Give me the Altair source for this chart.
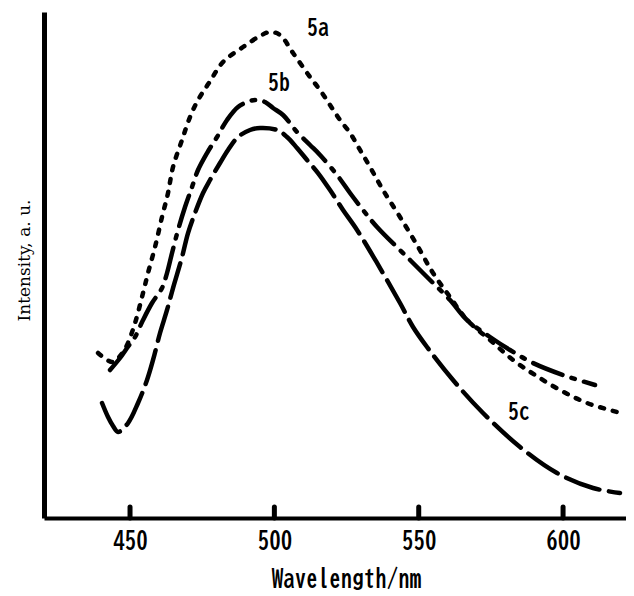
import altair as alt
import pandas as pd

# ---- data ----
wl_5a = [438.92, 442.03, 444.11, 446.54, 448.96, 451.73, 454.50, 456.23, 458.66, 461.08,
         463.16, 464.89, 468.01, 470.78, 473.55, 477.71, 482.21, 489.14, 495.03, 498.48,
         501.96, 506.46, 512.35, 515.81, 519.28, 522.74, 526.21, 529.67, 533.13, 537.63,
         543.52, 549.41, 554.95, 560.84, 566.73, 574.70, 582.66, 590.28, 598.94, 608.30,
         621.46]
int_5a = [32.61, 31.23, 30.83, 32.02, 34.19, 38.54, 44.47, 48.42, 53.56, 59.49,
          64.23, 69.37, 74.70, 79.25, 82.60, 86.30, 90.12, 93.08, 95.26, 96.05,
          95.45, 91.90, 87.15, 84.58, 81.62, 78.66, 76.09, 72.73, 69.37, 64.82,
          59.49, 53.95, 48.42, 43.68, 39.13, 35.18, 31.23, 28.26, 25.30, 22.73,
          20.55]

wl_5b = [443.07, 446.54, 448.96, 451.73, 454.50, 457.62, 461.08, 462.82, 464.55, 466.63,
         469.05, 471.48, 473.55, 476.67, 480.14, 483.60, 487.41, 491.57, 494.34, 496.76,
         499.53, 503.00, 507.85, 512.35, 515.81, 521.70, 526.20, 530.71, 535.56, 546.99,
         553.91, 560.84, 566.73, 574.70, 581.62, 589.59, 599.98, 611.07]
int_5b = [29.25, 31.62, 33.60, 35.77, 39.13, 42.49, 45.45, 48.42, 52.37, 56.92,
          61.46, 65.42, 68.77, 72.13, 75.30, 78.66, 81.23, 82.41, 82.61, 82.21,
          81.03, 79.64, 76.28, 73.72, 71.74, 67.79, 64.23, 60.87, 57.51, 50.99,
          47.04, 43.08, 39.13, 35.77, 33.20, 30.63, 28.26, 26.28]

wl_5c = [440.30, 442.38, 444.11, 445.84, 449.31, 452.77, 455.89, 457.97, 460.39, 462.82,
         464.89, 468.01, 470.09, 472.51, 475.29, 477.71, 481.17, 483.95, 487.41, 491.57,
         495.03, 500.92, 504.38, 507.85, 511.31, 515.12, 519.28, 523.78, 528.63, 535.56,
         543.52, 548.03, 552.87, 561.88, 572.27, 585.09, 597.90, 610.37, 619.72]
int_5c = [22.73, 19.96, 18.18, 17.00, 18.77, 22.73, 27.27, 31.23, 36.56, 41.11,
          45.45, 51.58, 56.32, 60.28, 64.23, 66.80, 70.16, 72.73, 75.30, 76.68,
          77.08, 76.68, 75.30, 73.12, 70.75, 68.18, 64.82, 60.87, 56.92, 50.40,
          42.49, 37.75, 33.79, 27.27, 20.75, 14.03, 8.89, 5.93, 4.94]

label_names = ["5a", "5b", "5c"]
label_wl = [515.1, 501.6, 584.7]
label_int = [96.8, 86.0, 20.9]

tick_values = [450, 500, 550, 600]

x_domain = [420.2, 621.8]
y_domain = [0, 100]

# ---- chart ----
W, H = 582, 506
xs = alt.Scale(domain=x_domain, nice=False, zero=False)
ys = alt.Scale(domain=y_domain, nice=False, zero=False)

gothic = "BIZ UDGothic, Archivo Narrow, sans-serif"

x_axis = alt.Axis(values=tick_values, title="Wavelength/nm", grid=False, ticks=False, tickSize=0,
                  domainColor="black", domainWidth=4, labelFont=gothic, labelFontSize=23,
                  labelFontWeight="bold", labelColor="black", labelPadding=12,
                  titleFont=gothic, titleFontSize=23, titleFontWeight="bold", titleColor="black",
                  titlePadding=15, titleX=302, titleAlign="center")
y_axis = alt.Axis(labels=False, ticks=False, tickSize=0, grid=False, domainColor="black",
                  domainWidth=5, title="Intensity, a. u.",
                  titleFont="DejaVu Serif, Liberation Serif, serif",
                  titleFontSize=17, titleFontWeight="normal", titleColor="black",
                  titlePadding=11, titleY=248)

X = lambda f: alt.X(f, scale=xs, axis=x_axis)
Y = lambda f: alt.Y(f, scale=ys, axis=y_axis)


def curve(wl, it, dash):
    df = pd.DataFrame({"wl": wl, "it": it})
    return alt.Chart(df).mark_line(color="black", strokeWidth=4.5, strokeDash=dash,
                                   strokeCap="round", interpolate="catmull-rom",
                                   clip=True).encode(x=X("wl:Q"), y=Y("it:Q"))


c5a = curve(wl_5a, int_5a, [4, 9])
c5b = curve(wl_5b, int_5b, [31.5, 9.5, 3.5, 9.5])
c5c = curve(wl_5c, int_5c, [35.5, 9.5])

ticks = alt.Chart(pd.DataFrame({"t": tick_values})).mark_rule(
    color="black", strokeWidth=5, strokeCap="round").encode(
    x=X("t:Q"),
    y=alt.value(H), y2=alt.value(H - 11),
)

labels = alt.Chart(pd.DataFrame({"n": label_names, "x": label_wl, "y": label_int})).mark_text(
    font=gothic, fontSize=22, fontWeight="bold", color="black").encode(
    x=X("x:Q"),
    y=Y("y:Q"),
    text="n:N",
)

chart = alt.layer(c5a, c5b, c5c, ticks, labels).properties(
    width=W, height=H,
    autosize=alt.AutoSizeParams(type="none"),
    padding={"left": 36, "top": 4, "right": 0, "bottom": 76},
    background="white",
).configure_view(strokeWidth=0)

chart.save("out.html", embed_options={"renderer": "svg", "actions": False})
